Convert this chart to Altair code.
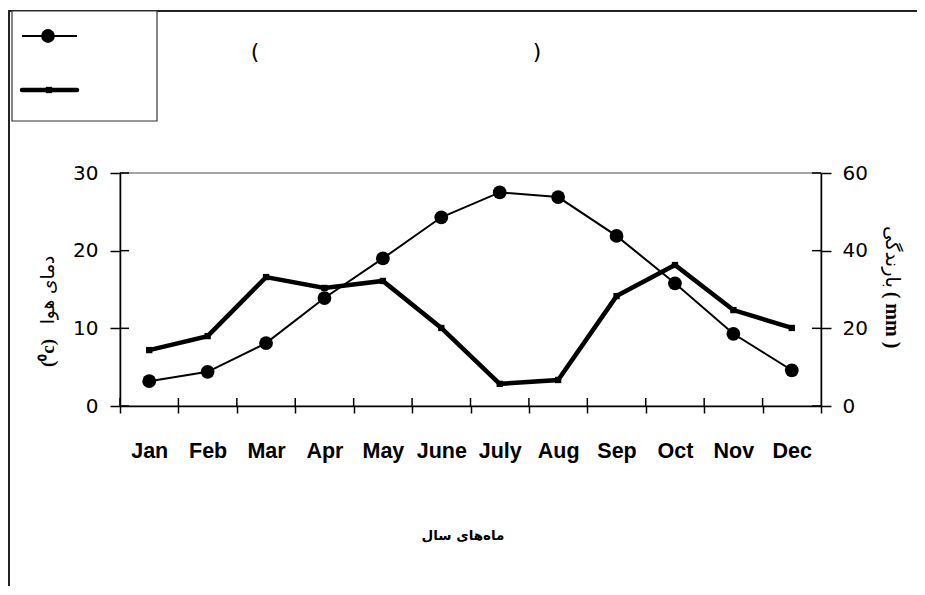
import altair as alt
import pandas as pd

months = ["Jan", "Feb", "Mar", "Apr", "May", "June", "July", "Aug", "Sep", "Oct", "Nov", "Dec"]
temperature = [3.2, 4.4, 8.1, 13.9, 19.0, 24.3, 27.5, 26.9, 21.9, 15.8, 9.3, 4.6]
precipitation = [14.4, 18.0, 33.2, 30.4, 32.2, 20.1, 5.7, 6.7, 28.3, 36.3, 24.7, 20.1]
left_ticks = [0, 10, 20, 30]
right_ticks = [0, 20, 40, 60]

df = pd.DataFrame({"month": months, "temp": temperature, "rain": precipitation})
df_lt = pd.DataFrame({"temp": left_ticks})
df_rt = pd.DataFrame({"rain": right_ticks})
dummy = pd.DataFrame({"a": [0]})

W, H = 701, 233
FONT = "DejaVu Sans"

xscale = alt.Scale(type="band", domain=months, paddingInner=0, paddingOuter=0)
xaxis = alt.Axis(
    title=None, labelAngle=0, tickBand="extent", tickSize=7, tickWidth=1.5,
    tickColor="black", domainColor="black", domainWidth=1.5,
    labelFont="Liberation Sans", labelFontWeight="bold", labelFontSize=21.5,
    labelColor="black", labelPadding=27,
)


def xenc(**kw):
    return alt.X("month:N", sort=months, scale=xscale, axis=xaxis, **kw)


ax_common = dict(
    title=None, tickSize=10, tickWidth=1.5, tickColor="black",
    domainColor="black", domainWidth=1.5, labelFont=FONT, labelFontSize=20,
    labelColor="black", grid=False,
)
laxis = alt.Axis(orient="left", values=left_ticks, labelPadding=12, **ax_common)
raxis = alt.Axis(orient="right", values=right_ticks, labelPadding=11, **ax_common)

ysc_t = alt.Scale(domain=[0, 30], nice=False)
ysc_r = alt.Scale(domain=[0, 60], nice=False)

base = alt.Chart(df)

temp_line = base.mark_line(color="black", strokeWidth=2).encode(
    x=xenc(), y=alt.Y("temp:Q", scale=ysc_t, axis=laxis)
)
temp_pts = base.mark_point(filled=True, color="black", size=190, opacity=1, shape="circle").encode(
    x=xenc(), y=alt.Y("temp:Q", scale=ysc_t, axis=laxis)
)
lt_inner = alt.Chart(df_lt).mark_rule(color="black", strokeWidth=1.5).encode(
    y=alt.Y("temp:Q", scale=ysc_t, axis=laxis), x=alt.value(0), x2=alt.value(9)
)
left = alt.layer(temp_line, temp_pts, lt_inner)

rain_line = base.mark_line(color="black", strokeWidth=4.5).encode(
    x=xenc(), y=alt.Y("rain:Q", scale=ysc_r, axis=raxis)
)
rain_pts = base.mark_square(color="black", size=40, opacity=1).encode(
    x=xenc(), y=alt.Y("rain:Q", scale=ysc_r, axis=raxis)
)
rt_inner = alt.Chart(df_rt).mark_rule(color="black", strokeWidth=1.5).encode(
    y=alt.Y("rain:Q", scale=ysc_r, axis=raxis), x=alt.value(W - 9), x2=alt.value(W)
)
right = alt.layer(rain_line, rain_pts, rt_inner)

x_inner = base.mark_rule(color="black", strokeWidth=1.5).encode(
    x=xenc(bandPosition=0), y=alt.value(H - 8), y2=alt.value(H)
)

d = alt.Chart(dummy)
# outer frame
frame_top = d.mark_rule(color="#222", strokeWidth=2).encode(
    x=alt.value(-112), x2=alt.value(820), y=alt.value(-162))
frame_left = d.mark_rule(color="#222", strokeWidth=2).encode(
    x=alt.value(-111), y=alt.value(-162), y2=alt.value(440))
# legend box
leg_box = d.mark_rect(fill="white", stroke="#333", strokeWidth=1.2).encode(
    x=alt.value(-108), x2=alt.value(37), y=alt.value(-162), y2=alt.value(-52))
leg_l1 = d.mark_rule(color="black", strokeWidth=2).encode(
    x=alt.value(-98), x2=alt.value(-43), y=alt.value(-137))
leg_p1 = d.mark_point(filled=True, color="black", size=190, opacity=1, shape="circle").encode(
    x=alt.value(-72), y=alt.value(-137))
leg_l2 = d.mark_rule(color="black", strokeWidth=4.5, strokeCap="round").encode(
    x=alt.value(-98), x2=alt.value(-43), y=alt.value(-83))
leg_p2 = d.mark_square(color="black", size=40, opacity=1).encode(
    x=alt.value(-71), y=alt.value(-83))
# title parentheses
par_l = d.mark_text(text="(", font=FONT, fontSize=22, color="black").encode(
    x=alt.value(135), y=alt.value(-121))
par_r = d.mark_text(text=")", font=FONT, fontSize=22, color="black").encode(
    x=alt.value(417), y=alt.value(-121))
# axis titles
lt_fa = d.mark_text(text="دمای هوا", font=FONT, fontSize=18.5, angle=270, color="black").encode(
    x=alt.value(-72), y=alt.value(117))
lt_en = d.mark_text(text="(⁰c)", font="Liberation Serif", fontWeight="bold", fontSize=19,
                    angle=270, color="black").encode(x=alt.value(-72), y=alt.value(180))
rt_fa = d.mark_text(text="بارندگی", font=FONT, fontSize=19.5, angle=90, color="black").encode(
    x=alt.value(772), y=alt.value(84))
rt_en = d.mark_text(text="( mm )", font="Liberation Serif", fontWeight="bold", fontSize=20,
                    angle=90, color="black").encode(x=alt.value(772), y=alt.value(147))
x_title = d.mark_text(text="ماه‌های سال", font=FONT, fontSize=13.5, fontWeight="bold",
                      color="black").encode(x=alt.value(343), y=alt.value(363))

deco = alt.layer(frame_top, frame_left, leg_box, leg_l1, leg_p1, leg_l2, leg_p2,
                 par_l, par_r, lt_fa, lt_en, rt_fa, rt_en, x_title, x_inner)

chart = alt.layer(left, right, deco).resolve_scale(y="independent").properties(
    width=W, height=H,
    autosize=alt.AutoSizeParams(type="none"),
    padding={"left": 112, "top": 165, "right": 96, "bottom": 180},
    background="white",
).configure_view(stroke="#888", strokeWidth=1.5)

chart.save("out.html", embed_options={"renderer": "svg", "actions": False})
